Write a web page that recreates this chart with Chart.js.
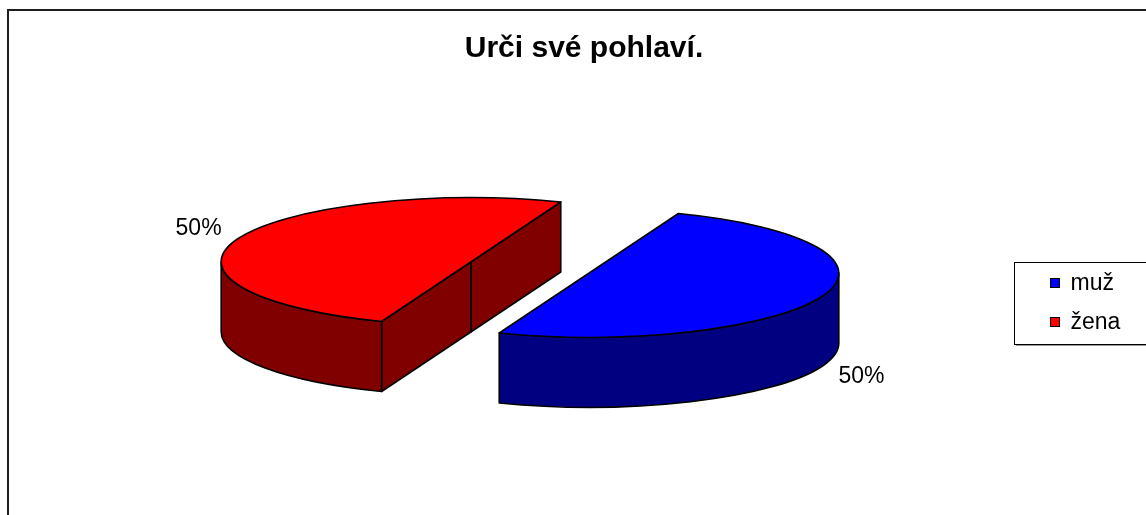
<!DOCTYPE html>
<html>
<head>
<meta charset="utf-8">
<title>Urči své pohlaví.</title>
<script src="https://cdn.jsdelivr.net/npm/chart.js@4/dist/chart.umd.min.js"></script>
<style>
  html, body { margin: 0; padding: 0; background: #fff; }
  #wrap { width: 1146px; height: 515px; }
</style>
</head>
<body>
<div id="wrap"><canvas id="pieChart" width="1146" height="515"></canvas></div>
<script>
/* data */
const labels = ['muž', 'žena'];
const values = [50, 50];
const titleText = 'Urči své pohlaví.';

/* look */
const FONT = '"Liberation Sans", Arial, Helvetica, sans-serif';
const topColors = ['#0000ff', '#ff0000'];
const sideColors = ['#000080', '#800000'];
const TILT = 0.256;   // vertical squash of the pie
const DEPTH = 70;     // height of the side walls
const EXPLODE = 63;   // how far each slice is pulled out

// centre / radii of one slice in screen space
function sliceGeom(arc) {
    const p = arc.getProps(['x', 'y', 'startAngle', 'endAngle', 'outerRadius']);
    const mid = (p.startAngle + p.endAngle) / 2;
    return {
        cx: p.x + Math.cos(mid) * EXPLODE,
        cy: p.y + Math.sin(mid) * EXPLODE * TILT,
        r: p.outerRadius,
        ry: p.outerRadius * TILT,
        s: p.startAngle,
        e: p.endAngle,
        mid: mid
    };
}

// part of [s,e] on the front half (sin > 0)
function frontRange(s, e) {
    for (let k = -2; k <= 2; k++) {
        const a = Math.max(s, 2 * Math.PI * k);
        const b = Math.min(e, 2 * Math.PI * k + Math.PI);
        if (b > a) return [a, b];
    }
    return null;
}

const pie3d = {
    id: 'pie3d',
    // side walls under the top faces
    beforeDatasetsDraw(chart) {
        const ctx = chart.ctx;
        const meta = chart.getDatasetMeta(0);
        ctx.save();
        ctx.lineWidth = 1.6;
        ctx.strokeStyle = '#000';
        ctx.lineJoin = 'round';
        meta.data.forEach((arc, i) => {
            const g = sliceGeom(arc);
            ctx.fillStyle = sideColors[i];

            // flat cut faces
            [[g.s, g.s - Math.PI / 2], [g.e, g.e + Math.PI / 2]].forEach(([t, n]) => {
                if (Math.sin(n) <= 0.001) return;
                const px = g.cx + g.r * Math.cos(t);
                const py = g.cy + g.ry * Math.sin(t);
                ctx.beginPath();
                ctx.moveTo(g.cx, g.cy);
                ctx.lineTo(px, py);
                ctx.lineTo(px, py + DEPTH);
                ctx.lineTo(g.cx, g.cy + DEPTH);
                ctx.closePath();
                ctx.fill();
                ctx.stroke();
            });

            // curved outer wall
            const fr = frontRange(g.s, g.e);
            if (fr) {
                ctx.beginPath();
                ctx.ellipse(g.cx, g.cy, g.r, g.ry, 0, fr[0], fr[1], false);
                ctx.lineTo(g.cx + g.r * Math.cos(fr[1]), g.cy + g.ry * Math.sin(fr[1]) + DEPTH);
                ctx.ellipse(g.cx, g.cy + DEPTH, g.r, g.ry, 0, fr[1], fr[0], true);
                ctx.closePath();
                ctx.fill();
                ctx.stroke();
            }
        });
        ctx.restore();
    },
    // top faces: Chart.js arcs, squashed and pulled apart
    beforeDatasetDraw(chart, args) {
        const ctx = chart.ctx;
        const cy = args.meta.data[0].y;
        ctx.save();
        ctx.translate(0, cy);
        ctx.scale(1, TILT);
        ctx.translate(0, -cy);
        args.meta.data.forEach(arc => {
            const mid = (arc.startAngle + arc.endAngle) / 2;
            ctx.save();
            ctx.translate(Math.cos(mid) * EXPLODE, Math.sin(mid) * EXPLODE);
            arc.draw(ctx);
            ctx.restore();
        });
        ctx.restore();
        return false;
    },
    afterDatasetsDraw(chart) {
        const ctx = chart.ctx;
        const meta = chart.getDatasetMeta(0);
        const total = values.reduce((a, b) => a + b, 0);

        ctx.save();
        ctx.lineWidth = 1.6;
        ctx.strokeStyle = '#000';
        ctx.lineJoin = 'round';
        meta.data.forEach((arc, i) => {
            const g = sliceGeom(arc);
            // outline of the top face
            ctx.beginPath();
            ctx.moveTo(g.cx, g.cy);
            ctx.ellipse(g.cx, g.cy, g.r, g.ry, 0, g.s, g.e, false);
            ctx.closePath();
            ctx.stroke();

            // percentage label
            const sn = Math.sin(g.mid);
            const lx = g.cx + 292 * Math.cos(g.mid);
            const ly = g.cy + sn * (292 * TILT + 18) + (sn > 0 ? DEPTH : 0);
            ctx.fillStyle = '#000';
            ctx.font = '23px ' + FONT;
            ctx.textAlign = 'center';
            ctx.textBaseline = 'middle';
            ctx.fillText(Math.round(values[i] / total * 100) + '%', lx, ly);
        });
        ctx.restore();
    },
    afterDraw(chart) {
        const ctx = chart.ctx;
        ctx.save();
        // chart frame (left and top edge visible)
        ctx.fillStyle = '#1e1e1e';
        ctx.fillRect(7, 9, 2, 515);
        ctx.fillRect(7, 9, 1146, 2);

        // title
        ctx.fillStyle = '#000';
        ctx.font = 'bold 30px ' + FONT;
        ctx.textAlign = 'center';
        ctx.textBaseline = 'alphabetic';
        ctx.fillText(titleText, 584, 57);

        // legend box
        const bx = 1014, by = 262, bw = 200, bh = 82;
        ctx.fillStyle = '#999';
        ctx.fillRect(bx + 2, by + bh + 1, bw, 1);
        ctx.strokeStyle = '#000';
        ctx.lineWidth = 1;
        ctx.strokeRect(bx + 0.5, by + 0.5, bw, bh);

        ctx.font = '23px ' + FONT;
        ctx.textAlign = 'left';
        ctx.textBaseline = 'middle';
        labels.forEach((lab, i) => {
            const y = 283 + i * 39;
            ctx.fillStyle = topColors[i];
            ctx.fillRect(1050, y - 5, 10, 10);
            ctx.strokeRect(1050.5, y - 4.5, 9, 9);
            ctx.fillStyle = '#000';
            ctx.fillText(lab, 1070.5, y + 1);
        });
        ctx.restore();
    }
};

new Chart(document.getElementById('pieChart'), {
    type: 'pie',
    data: {
        labels: labels,
        datasets: [{
            data: values,
            backgroundColor: topColors,
            borderWidth: 0,
            offset: 0,
            hoverOffset: 0,
            radius: 250,
            rotation: 21,
            clip: false
        }]
    },
    options: {
        responsive: false,
        animation: false,
        events: [],
        layout: { padding: { left: 0, right: 86, top: 20, bottom: 0 } },
        plugins: {
            legend: { display: false },
            tooltip: { enabled: false },
            title: { display: false }
        }
    },
    plugins: [pie3d]
});
</script>
</body>
</html>
